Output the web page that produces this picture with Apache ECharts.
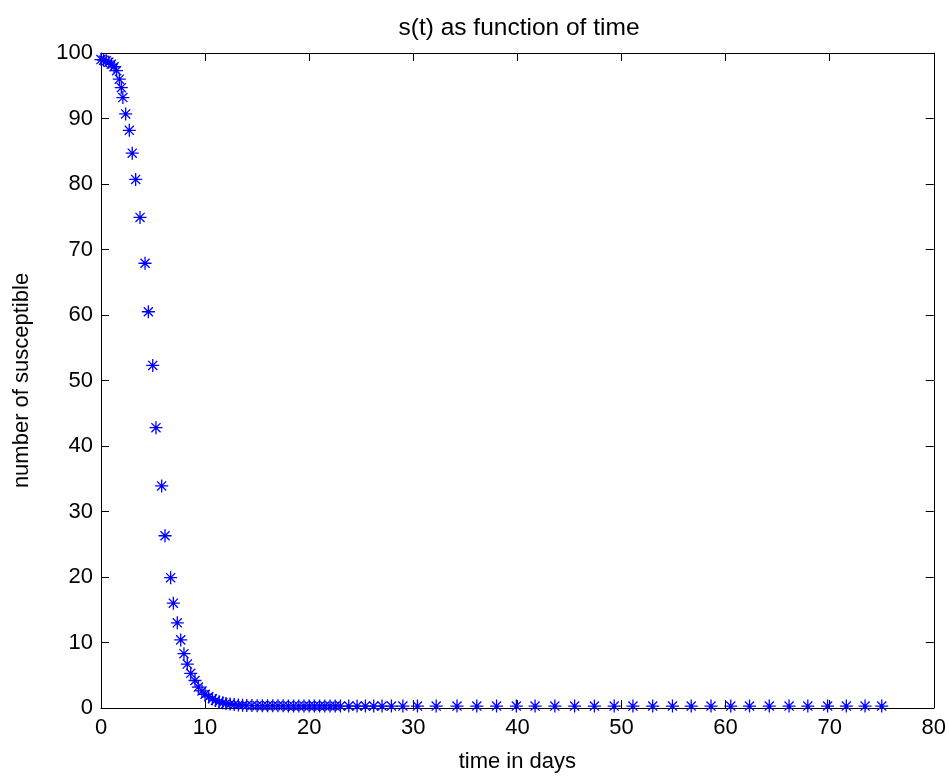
<!DOCTYPE html>
<html>
<head>
<meta charset="utf-8">
<script src="https://cdn.jsdelivr.net/npm/echarts@6/dist/echarts.min.js"></script>
<style>
html,body{margin:0;padding:0;background:#fff;}
#chart{width:949px;height:778px;}
</style>
</head>
<body>
<div id="chart"></div>
<script>
var titleText = 's(t) as function of time';
var xAxisName = 'time in days';
var yAxisName = 'number of susceptible';
var xTicks = [0, 10, 20, 30, 40, 50, 60, 70, 80];
var yTicks = [0, 10, 20, 30, 40, 50, 60, 70, 80, 90, 100];

var timeDays = [
  0, 0.25, 0.5, 0.75, 1.0, 1.25, 1.5, 1.76, 1.95, 2.1,
  2.37, 2.72, 3.0, 3.33, 3.75, 4.23, 4.55, 4.97, 5.28, 5.83,
  6.15, 6.69, 6.95, 7.33, 7.66, 7.97, 8.29, 8.62, 9.03, 9.35,
  9.7, 10.0, 10.35, 10.7, 11.0, 11.35, 11.7, 12.0, 12.4, 12.8,
  13.2, 13.6, 14.0, 14.5, 15.0, 15.5, 16.0, 16.5, 17.0, 17.5,
  18.0, 18.5, 19.0, 19.5, 20.0, 20.5, 21.0, 21.5, 22.0, 22.5,
  23.0, 23.8, 24.6, 25.4, 26.2, 27.0, 27.9, 29.0, 30.4, 32.2,
  34.2, 36.1, 38.0, 39.9, 41.7, 43.6, 45.5, 47.4, 49.3, 51.1,
  53.0, 54.9, 56.7, 58.6, 60.5, 62.3, 64.2, 66.1, 67.9, 69.8,
  71.6, 73.4, 75.0
];
var susceptible = [
  99.0, 98.9, 98.8, 98.6, 98.3, 97.9, 97.3, 96.0, 94.7, 93.2,
  90.7, 88.2, 84.7, 80.7, 74.9, 67.9, 60.5, 52.3, 42.8, 33.9,
  26.3, 19.9, 16.0, 13.0, 10.4, 8.3, 6.7, 5.3, 4.2, 3.2,
  2.6, 2.1, 1.7, 1.4, 1.15, 0.95, 0.8, 0.7, 0.6, 0.52,
  0.46, 0.42, 0.39, 0.37, 0.35, 0.34, 0.34, 0.33, 0.33, 0.33,
  0.32, 0.32, 0.32, 0.32, 0.31, 0.31, 0.31, 0.31, 0.31, 0.31,
  0.30, 0.30, 0.30, 0.30, 0.30, 0.30, 0.30, 0.30, 0.30, 0.30,
  0.30, 0.30, 0.30, 0.30, 0.30, 0.30, 0.30, 0.30, 0.30, 0.30,
  0.30, 0.30, 0.30, 0.30, 0.30, 0.30, 0.30, 0.30, 0.30, 0.30,
  0.30, 0.30, 0.30
];

var points = timeDays.map(function (t, i) { return [t, susceptible[i]]; });

var FONT = '"Liberation Sans", Arial, sans-serif';
var chart = echarts.init(document.getElementById('chart'), null, {renderer: 'canvas'});

var baseLine = {show: true, onZero: false, lineStyle: {color: '#000', width: 1}};
var baseTick = {show: true, inside: true, length: 8, lineStyle: {color: '#000', width: 1}};

var xMin = xTicks[0], xMax = xTicks[xTicks.length - 1], xStep = xTicks[1] - xTicks[0];
var yMin = yTicks[0], yMax = yTicks[yTicks.length - 1], yStep = yTicks[1] - yTicks[0];

chart.setOption({
  animation: false,
  backgroundColor: '#fff',
  grid: {left: 101, right: 15, top: 53, bottom: 69, containLabel: false},
  graphic: [{
    type: 'text', x: 519, y: 28,
    style: {text: titleText, font: '24.5px ' + FONT, fill: '#000', textAlign: 'center', textVerticalAlign: 'middle'}
  }],
  xAxis: [{
    type: 'value', position: 'bottom', min: xMin, max: xMax, interval: xStep,
    name: xAxisName, nameLocation: 'middle', nameGap: 43,
    nameTextStyle: {fontSize: 22, color: '#000', fontFamily: FONT},
    axisLine: baseLine, axisTick: baseTick,
    axisLabel: {fontSize: 22, color: '#000', fontFamily: FONT, margin: 9},
    splitLine: {show: false}
  }, {
    type: 'value', position: 'top', min: xMin, max: xMax, interval: xStep,
    axisLine: baseLine, axisTick: baseTick, axisLabel: {show: false}, splitLine: {show: false}
  }],
  yAxis: [{
    type: 'value', position: 'left', min: yMin, max: yMax, interval: yStep,
    name: yAxisName, nameLocation: 'middle', nameGap: 68, nameRotate: 90,
    nameTextStyle: {fontSize: 22, color: '#000', fontFamily: FONT},
    axisLine: baseLine, axisTick: baseTick,
    axisLabel: {fontSize: 22, color: '#000', fontFamily: FONT, margin: 8},
    splitLine: {show: false}
  }, {
    type: 'value', position: 'right', min: yMin, max: yMax, interval: yStep,
    axisLine: baseLine, axisTick: baseTick, axisLabel: {show: false}, splitLine: {show: false}
  }],
  series: [{
    type: 'scatter',
    xAxisIndex: 0, yAxisIndex: 0,
    data: points,
    symbol: 'path://M0,-10L0,10M-10,0L10,0M-7,-7L7,7M-7,7L7,-7',
    symbolSize: 13,
    itemStyle: {color: 'rgba(0,0,0,0)', borderColor: '#0000ff', borderWidth: 1.3, opacity: 1},
    emphasis: {disabled: true},
    clip: false,
    z: 5
  }]
});
</script>
</body>
</html>
